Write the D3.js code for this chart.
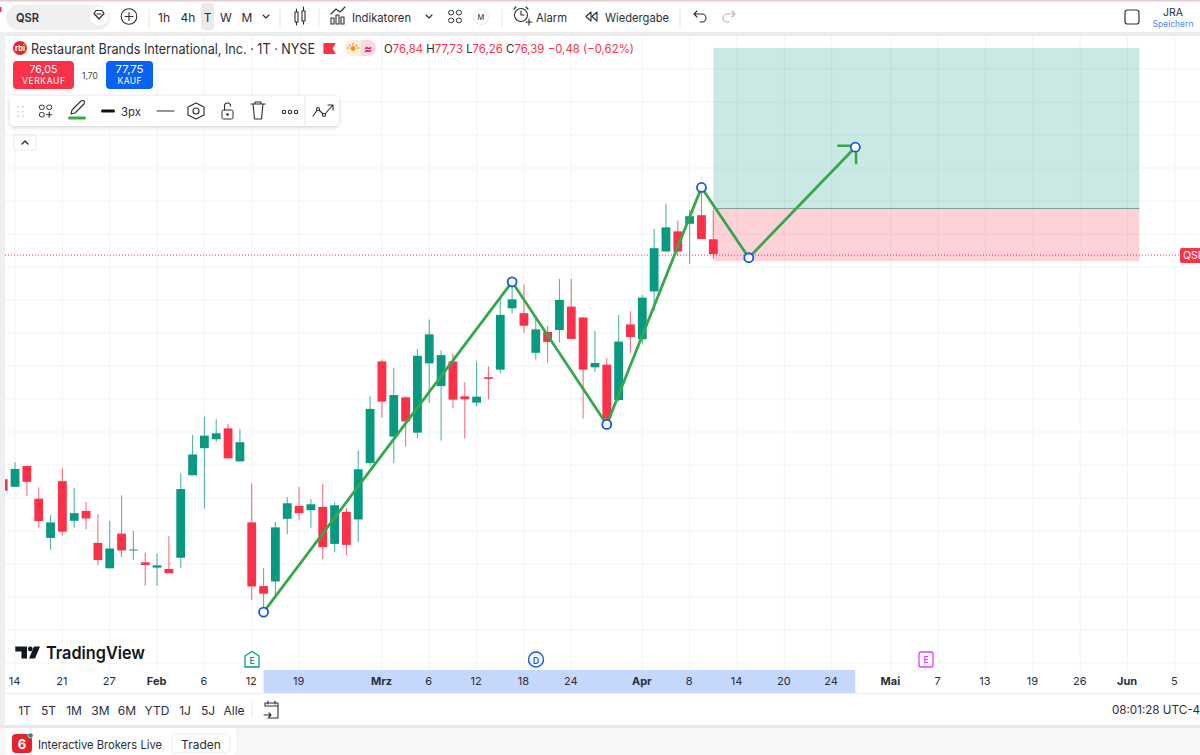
<!DOCTYPE html>
<html><head><meta charset="utf-8">
<script src="https://cdn.jsdelivr.net/npm/d3@7"></script>
<style>html,body{margin:0;padding:0;background:#fff;overflow:hidden}svg{display:block}text{font-family:Inter,Roboto,sans-serif;fill:#2a2e39}</style>
</head><body><svg id="c" width="1200" height="755"></svg>
<script>
const opens =[69.57,69.34,69.97,68.98,67.79,69.51,68.31,68.61,67.64,66.87,67.92,67.43,67.05,66.89,66.85,67.19,69.69,70.51,70.78,71.11,70.11,68.26,66.33,66.47,68.37,68.76,68.63,68.73,67.61,68.58,68.35,70.06,73.14,70.86,72.05,70.98,73.08,72.39,73.14,72.08,71.89,72.66,72.89,74.75,74.60,73.40,74.03,74.09,74.80,74.47,72.96,73.04,71.97,74.26,73.81,75.26,76.47,77.08,77.31,77.57,76.84];
const highs =[69.57,70.08,69.97,69.32,68.48,69.90,69.30,68.88,68.51,68.31,69.08,68.00,67.35,67.32,67.85,69.75,70.91,71.46,71.39,71.24,71.09,69.44,66.87,68.27,69.03,69.33,68.97,69.43,68.87,68.71,70.44,72.09,73.20,72.95,72.09,73.51,74.41,73.48,73.38,72.51,73.14,72.99,75.05,75.45,75.47,74.51,74.21,75.64,75.64,74.47,74.06,73.24,74.54,74.66,75.15,77.15,77.92,77.41,77.73,78.33,77.73];
const lows  =[69.22,69.34,69.06,68.10,67.43,67.86,68.10,68.05,66.96,66.87,67.21,67.11,66.34,66.34,66.72,66.89,69.69,68.68,70.70,70.20,70.10,65.90,65.67,65.96,67.90,68.34,68.10,67.15,67.37,67.27,67.67,69.98,71.44,70.06,70.55,70.81,71.89,70.74,71.72,70.80,71.77,71.99,72.78,74.58,74.01,73.20,73.10,73.71,73.82,71.41,72.81,71.36,71.92,73.40,73.66,74.67,76.47,76.34,76.10,76.85,76.26];
const closes=[69.22,69.88,69.49,68.30,68.26,67.98,68.54,68.38,67.12,67.47,67.41,67.44,66.97,66.96,66.72,69.27,70.32,70.89,70.96,70.20,70.69,66.32,66.10,68.11,68.84,68.54,68.81,67.51,68.78,67.58,69.87,71.70,71.92,72.12,71.32,73.31,73.96,73.33,71.98,71.99,72.07,72.61,74.55,75.02,74.22,74.11,73.73,75.00,73.82,72.89,73.09,71.40,73.74,73.88,75.07,76.57,77.20,76.47,77.54,76.85,76.39];
const tickBars  =[1,5,9,13,17,21,25,32,36,40,44,48,54,58,62,66,70,75,79,83,87,91,95,99];
const tickLabels=["14","21","27","Feb","6","12","19","Mrz","6","12","18","24","Apr","8","14","20","24","Mai","7","13","19","26","Jun","5"];
const monthLabels=["Feb","Mrz","Apr","Mai","Jun"];
const gridPrices=[64,65,66,67,68,69,70,71,72,73,74,75,76,77,78,79,80,81,82];
const patternBars  =[22,43,51,59,63,72];
const patternPrices=[65.54,75.55,71.23,78.41,76.28,79.63];
const boxBars=[60,96];
const boxPrices=[82.64,77.77,76.18];
const lastPrice=76.39;
const rangeLabels=["1T","5T","1M","3M","6M","YTD","1J","5J","Alle"];
const legendParts=[["O","76,84"],["H","77,73"],["L","76,26"],["C","76,39"]];

const svg=d3.select("#c");
const x=d3.scaleLinear().domain([0,100]).range([3.2,1186.7]);
const y=d3.scaleLinear().domain([64,82]).range([663,69]);
const GREEN="#089981",RED="#fb3049",INK="#2a2e39";
const defs=svg.append("defs");
defs.append("clipPath").attr("id","pane").append("rect").attr("x",5).attr("y",36).attr("width",1195).attr("height",634);
const sh=defs.append("filter").attr("id","sh").attr("x","-10%").attr("y","-20%").attr("width","120%").attr("height","150%");
sh.append("feDropShadow").attr("dx",0).attr("dy",1).attr("stdDeviation",2).attr("flood-color","#000").attr("flood-opacity",.2);

// backgrounds
svg.append("rect").attr("width",1200).attr("height",755).attr("fill","#fff");
svg.append("rect").attr("width",1200).attr("height",1.5).attr("fill","#e3ccd4");
svg.append("rect").attr("y",32).attr("width",1200).attr("height",4).attr("fill","#ececec");
svg.append("rect").attr("y",32).attr("width",5).attr("height",693).attr("fill","#efefef");

// grid
const grid=svg.append("g").attr("clip-path","url(#pane)");
grid.selectAll(".h").data(gridPrices).join("line").attr("x1",5).attr("x2",1200).attr("y1",d=>y(d)).attr("y2",d=>y(d)).attr("stroke","#f2f3f5");
grid.selectAll(".v").data(tickBars).join("line").attr("x1",d=>x(d)).attr("x2",d=>x(d)).attr("y1",36).attr("y2",670).attr("stroke","#f2f3f5");

// position box
const pane=svg.append("g").attr("clip-path","url(#pane)");
pane.append("rect").attr("x",x(boxBars[0])).attr("width",x(boxBars[1])-x(boxBars[0])).attr("y",y(boxPrices[0])).attr("height",y(boxPrices[1])-y(boxPrices[0])).attr("fill","rgba(8,153,129,.21)");
pane.append("rect").attr("x",x(boxBars[0])).attr("width",x(boxBars[1])-x(boxBars[0])).attr("y",y(boxPrices[1])).attr("height",y(boxPrices[2])-y(boxPrices[1])).attr("fill","rgba(251,48,73,.21)");
pane.append("line").attr("x1",x(boxBars[0])).attr("x2",x(boxBars[1])).attr("y1",y(boxPrices[1])).attr("y2",y(boxPrices[1])).attr("stroke","#7f9c96");
pane.append("line").attr("x1",5).attr("x2",1180).attr("y1",y(lastPrice)+1).attr("y2",y(lastPrice)+1).attr("stroke",RED).attr("stroke-dasharray","1 2");

// candles
const bars=d3.range(opens.length);
const col=i=>closes[i]>=opens[i]?GREEN:RED;
pane.selectAll(".w").data(bars).join("line").attr("x1",x).attr("x2",x).attr("y1",i=>y(highs[i])).attr("y2",i=>y(lows[i])).attr("stroke",col).attr("stroke-opacity",.7).attr("stroke-width",1.1);
pane.selectAll(".b").data(bars).join("rect").attr("x",i=>x(i)-4.4).attr("width",8.8)
 .attr("y",i=>y(Math.max(opens[i],closes[i]))).attr("height",i=>Math.max(1,Math.abs(y(opens[i])-y(closes[i])))).attr("fill",col);

// pattern
const line=d3.line().x((d,i)=>x(patternBars[i])).y(d=>y(d));
pane.append("path").attr("d",line(patternPrices)).attr("fill","none").attr("stroke","#36a84c").attr("stroke-width",2.8);
const hx=x(patternBars[5]),hy=y(patternPrices[5]);
pane.append("path").attr("d",`M${hx-18} ${hy-1.5}L${hx} ${hy-1.5}M${hx+.6} ${hy}L${hx+.8} ${hy+17}`).attr("fill","none").attr("stroke","#36a84c").attr("stroke-width",2.5);
pane.selectAll(".m").data(patternPrices).join("circle").attr("cx",(d,i)=>x(patternBars[i])).attr("cy",d=>y(d)).attr("r",4.5).attr("fill","#fff").attr("stroke","#1558e0").attr("stroke-width",1.8);

// time axis
svg.append("rect").attr("x",x(patternBars[0])).attr("width",x(patternBars[5])-x(patternBars[0])).attr("y",670).attr("height",23).attr("fill","#c5d7fb");
const labelOf=new Map(tickBars.map((b,i)=>[b,tickLabels[i]]));
const ax=svg.append("g").attr("transform","translate(0,670)").call(d3.axisBottom(x).tickValues(tickBars).tickFormat(d=>labelOf.get(d)).tickSize(0).tickPadding(7).offset(0));
ax.select(".domain").remove();
ax.selectAll("text").attr("dx",-.5).style("font-family","Inter,Roboto,sans-serif").style("font-size","11px").style("fill","#2a2e39").attr("font-weight",function(){return monthLabels.includes(this.textContent)?700:400});
svg.append("line").attr("x1",5).attr("x2",1200).attr("y1",693.5).attr("y2",693.5).attr("stroke","#eceef1");

// helpers
function T(tx,tyy,s,o={}){const t=svg.append("text").attr("x",tx).attr("y",tyy).text(s).attr("font-size",o.size||12).attr("dominant-baseline","central");
 if(o.anchor)t.attr("text-anchor",o.anchor); if(o.weight)t.attr("font-weight",o.weight); if(o.fill)t.style("fill",o.fill); if(o.len)t.attr("textLength",o.len).attr("lengthAdjust",o.adj||"spacingAndGlyphs"); return t;}
function P(d,o={}){return svg.append("path").attr("d",d).attr("fill",o.fill||"none").attr("stroke",o.stroke||INK).attr("stroke-width",o.w||1.1).attr("stroke-linecap","round").attr("stroke-linejoin","round");}
function R(rx,ry,w,h,r,f,s){return svg.append("rect").attr("x",rx).attr("y",ry).attr("width",w).attr("height",h).attr("rx",r).attr("fill",f||"none").attr("stroke",s||"none");}
function C(cx,cy,r,f,s,w){return svg.append("circle").attr("cx",cx).attr("cy",cy).attr("r",r).attr("fill",f||"none").attr("stroke",s||INK).attr("stroke-width",w||1.1);}
function sep(sx,y1,y2){svg.append("line").attr("x1",sx).attr("x2",sx).attr("y1",y1).attr("y2",y2).attr("stroke","#e6e6e6");}
function four(cx,cy,g,plus){[[-1,-1],[1,-1],[-1,1],[1,1]].forEach(([a,b])=>{if(plus&&a>0&&b>0){P(`M${cx+g-2.6} ${cy+g}h5.2M${cx+g} ${cy+g-2.6}v5.2`);return;}R(cx+a*g-2.5,cy+b*g-2.2,5,4.4,2,"none",INK);});}

// top toolbar
svg.append("path").attr("d","M0 7h1.5v5H0z").attr("fill",RED);
R(6,5,104,25,12.5,"#efefef");
T(16,17,"QSR",{size:12,weight:600,len:23});
C(99,16,9.5,"#fff","none");P("M94 13.5l2-3h6l2 3-5 5.5z M97 14h4",{w:1.2});
C(129,16.5,7.8);P("M125 16.5h8M129 12.5v8");
sep(149,8,28);
T(164,17,"1h",{anchor:"middle"});T(188,17,"4h",{anchor:"middle"});
R(201,3,13,27,3,"#e9e9e9");T(207.5,17,"T",{anchor:"middle"});
T(226,17,"W",{anchor:"middle"});T(247,17,"M",{anchor:"middle"});
P("M263 15l3 3 3-3");sep(280,8,28);
P("M295 12h3v10h-3zM302 11h3v10h-3zM296.5 9v3M296.5 22v3M303.5 7v4M303.5 21v3");
sep(319,8,28);
P("M331 24v-6h3v6zM336 24v-9h3v9zM341 24v-7h3v7zM331 14l5-5 4 3 5-5");
T(352,17,"Indikatoren",{len:59});P("M426 15l3 3 3-3");four(455,16.5,3.9);
C(481,17,7.5,"#fff","#ececec");T(481,17,"M",{size:7.5,anchor:"middle"});sep(502,8,28);
C(521,15,6.5);P("M521 11v4h3M516 7l-2 2M526 7l2 2M526 22h6M529 19v6");
T(536,17,"Alarm",{len:31});
P("M591 12l-5 4.5 5 4.5zM597 12l-5 4.5 5 4.5z");
T(605,17,"Wiedergabe",{len:64});sep(680,8,28);
P("M694 14h8a4 4 0 0 1 0 8h-2M697 11l-3 3 3 3");
P("M735 14h-8a4 4 0 0 0 0 8h2M732 11l3 3-3 3",{stroke:"#b5b8bf"});
R(1125,10,14,14,2.5,"none","#333").attr("stroke-width",1.2);
T(1173,12.5,"JRA",{anchor:"middle",size:10.5});T(1173,24,"Speichern",{anchor:"middle",size:8.5,fill:"#4f86f7"});

// legend
C(20,48,7,"#e3282f","none");T(20,48.3,"rbi",{anchor:"middle",size:7.5,weight:700,fill:"#fff"});
T(31,48.5,"Restaurant Brands International, Inc. · 1T · NYSE",{size:14,len:284});
P("M324 43.5h11l-3 5 3 5h-11z",{fill:RED,stroke:RED});
R(345,40,31,16,8,"#fdeedd");svg.append("path").attr("d","M361 40h7a8 8 0 0 1 8 8a8 8 0 0 1-8 8h-7z").attr("fill","#fcd9e2");
C(353,48.5,2.4,"#f7931a","none");P("M347 48h2M357 48h2M353 43v2M349 45l1 1M357 45l-1 1",{stroke:"#f7931a"});
T(368,48,"≈",{anchor:"middle",size:12,weight:700,fill:"#d81b60"});
const lg=svg.append("text").attr("x",384).attr("y",48.5).attr("font-size",11.5).attr("dominant-baseline","central").attr("textLength",250).attr("lengthAdjust","spacingAndGlyphs");
legendParts.forEach(([k,v])=>{lg.append("tspan").text(k).style("fill",INK);lg.append("tspan").text(v+" ").style("fill",RED);});
lg.append("tspan").text("−0,48 (−0,62%)").style("fill",RED);

// trade buttons
R(13,61,61,28,4,RED);T(43.5,69,"76,05",{anchor:"middle",size:11,fill:"#fff",len:28});T(43.5,81,"VERKAUF",{anchor:"middle",size:8.5,fill:"#fff",len:43,adj:"spacing"});
T(90,75.5,"1,70",{anchor:"middle",size:8.5,fill:"#444"});
R(106,61,47,28,4,"#0a62f5");T(129.5,69,"77,75",{anchor:"middle",size:11,fill:"#fff",len:28});T(129.5,81,"KAUF",{anchor:"middle",size:8.5,fill:"#fff",len:24,adj:"spacing"});

// drawing toolbar
R(10,96,329,30,5,"#fff").attr("filter","url(#sh)");
sep(305,96,126);
d3.range(2).forEach(a=>d3.range(3).forEach(b=>C(18+a*5,107+b*4.6,.9,"#ccc","none")));
four(45.5,111,3.7,true);
P("M71 114l1-4 9-9q2-1 3 0t0 3l-9 9z");R(68,116.5,18,3,1.5,"#36a84c");
R(101,109.5,14,3,1.5,"#111");T(121,111.5,"3px",{size:12,len:20});
P("M157 111h17");
P("M196 103l8 4v8l-8 4-8-4v-8z");C(196,111,3);
R(222,110,11,9,1.5,"none",INK);P("M224.5 110v-4a3 3 0 0 1 6 0");C(227.5,114.5,.8,INK,INK);
P("M251 104h14M253 104l1.5 15h7l1.5-15M255 104v-2h6v2");
C(284,112,1.7);C(290,112,1.7);C(296,112,1.7);
P("M313 116l5-7 6 6 8-9M328 105h5v5");
C(318,109,1.5,"#fff");C(324,115,1.5,"#fff");

R(14,135,22,15,2,"#fff","#e6e6e6");P("M22 144l3-3 3 3",{w:1.4});

// watermark
svg.append("path").attr("d","M15.3 646.5H27v12h-5.5v-7h-6.2zM34 646.5h6l-5 12h-6z").attr("fill","#131722");
C(30.3,649,2.4,"#131722","none");
T(46,653,"TradingView",{size:17,weight:600,len:99,fill:"#131722"});

// event markers
P("M245 656l7-4.5 7 4.5v11h-14z",{stroke:GREEN,w:1.3,fill:"#fff"});T(252,660.5,"E",{anchor:"middle",size:8.5,weight:600,fill:GREEN});
C(536,659.5,7.5,"#fff","#1558e0",1.4);T(536,660,"D",{anchor:"middle",size:9,weight:600,fill:"#1558e0"});
R(919,652,14,15,2,"#fff","#e040fb").attr("stroke-width",1.3);T(926,659.5,"E",{anchor:"middle",size:8.5,weight:600,fill:"#e040fb"});

// price tag
R(1180,248,24,15,2,RED);T(1183,255.8,"QSR",{size:10.5,fill:"#fff"});

// range bar
const rangeX=[24.5,48.6,74,100.5,127,157,185,208,234];
rangeLabels.forEach((s,i)=>T(rangeX[i],710,s,{anchor:"middle",size:12}));
sep(252,702,718);
P("M265 706v-3h13v15h-10M265 706h13M268 701v3M275 701v3M264 715h7M269 713l2 2-2 2");
T(1112,710,"08:01:28 UTC-4",{size:11.5,len:88});

// footer
svg.append("rect").attr("y",725).attr("width",1200).attr("height",30).attr("fill","#f7f7f7");
svg.append("rect").attr("y",725).attr("width",1200).attr("height",3).attr("fill","#e8e8e8");
R(5,728,231,27,3,"#fff");
R(12,734,20,19,4,"#e3242b");T(22,743.5,"6",{anchor:"middle",size:13,weight:700,fill:"#fff"});
C(30.5,735.5,2.6,GREEN,"#fff",.6);
T(38,744,"Interactive Brokers Live",{size:12,len:124});
R(172,734,58,19,5,"#fff","#ececec");T(201,744,"Traden",{anchor:"middle",size:12});
</script></body></html>
